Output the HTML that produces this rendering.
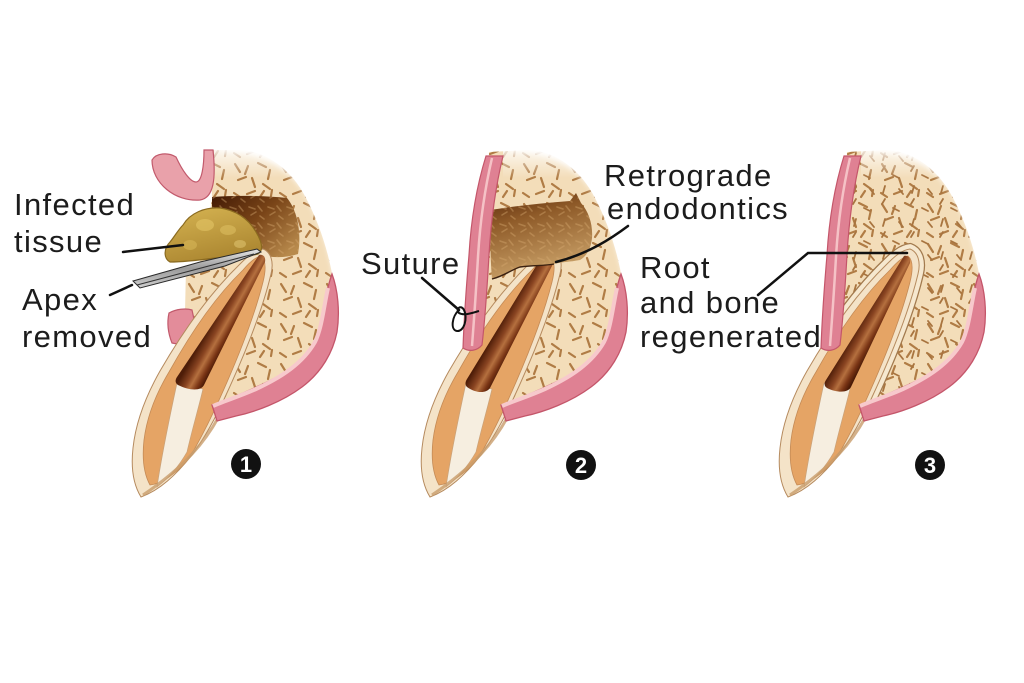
<!DOCTYPE html>
<html><head><meta charset="utf-8"><style>
html,body{margin:0;padding:0;background:#fff;}
svg{display:block}
text{font-family:"Liberation Sans",Arial,sans-serif;}
</style></head><body>
<svg width="1024" height="683" viewBox="0 0 1024 683" xmlns="http://www.w3.org/2000/svg">
<defs>
<pattern id="spkA" width="46" height="40" patternUnits="userSpaceOnUse">
<path d="M5,4 l5,8 M18,6 l-3,8 M28,3 l8,4 M40,10 l-2,9 M8,20 l8,-3 M22,18 l3,9 M33,24 l7,5 M4,33 l6,4 M17,34 l8,-3 M30,37 l4,-6 M42,30 l-1,6" stroke="#b07c45" stroke-width="2.2" stroke-linecap="round" fill="none"/>
</pattern>
<pattern id="spkB" width="29" height="33" patternUnits="userSpaceOnUse">
<path d="M3,6 l3,-5 M14,10 l6,3 M6,21 l-2,7 M20,24 l4,5" stroke="#a8743f" stroke-width="1.8" stroke-linecap="round" fill="none"/>
</pattern>
<pattern id="spkC" width="19" height="17" patternUnits="userSpaceOnUse">
<path d="M2,3 l6,2 M11,2 l4,5 M4,11 l5,-3 M13,12 l4,3" stroke="#d6aa70" stroke-width="1.6" stroke-linecap="round" fill="none" opacity=".4"/>
</pattern>
<linearGradient id="canalG" gradientUnits="userSpaceOnUse" x1="179.6" y1="379.1" x2="200.4" y2="390.9">
<stop offset="0" stop-color="#4e1d08"/><stop offset=".35" stop-color="#8a4522"/><stop offset=".55" stop-color="#b5703f"/><stop offset=".8" stop-color="#7a3515"/><stop offset="1" stop-color="#4a1a06"/>
</linearGradient>
<linearGradient id="cav1" x1="0" y1="0" x2="1" y2="0.8">
<stop offset="0" stop-color="#421904"/><stop offset=".5" stop-color="#7a4518"/><stop offset="1" stop-color="#b88a4c"/>
</linearGradient>
<linearGradient id="cav2" x1="0" y1="0" x2="0.3" y2="1">
<stop offset="0" stop-color="#5a290a"/><stop offset=".35" stop-color="#8e5a28"/><stop offset="1" stop-color="#c9a067"/>
</linearGradient>
<linearGradient id="tis" x1="0" y1="0" x2="0.4" y2="1">
<stop offset="0" stop-color="#d6b452"/><stop offset="1" stop-color="#ad8832"/>
</linearGradient>
<linearGradient id="tool" x1="0" y1="0" x2="0" y2="1">
<stop offset="0" stop-color="#e6e6e6"/><stop offset=".5" stop-color="#9a9a9a"/><stop offset="1" stop-color="#d0d0d0"/>
</linearGradient>
<linearGradient id="fadeT" x1="0" y1="0" x2="0" y2="1">
<stop offset="0" stop-color="#fff" stop-opacity="1"/><stop offset=".35" stop-color="#fff" stop-opacity=".6"/><stop offset="1" stop-color="#fff" stop-opacity="0"/>
</linearGradient>
<filter id="blur" x="-20%" y="-20%" width="140%" height="140%"><feGaussianBlur stdDeviation="3"/></filter>
<clipPath id="clipB2"><path d="M200,152 L240,150 C268,151 293,172 306,198 C319,223 329,252 334,285 L336,320 C330,356 300,390 250,408 L218,418 L200,380 L186,350 L186,300 L190,250 L198,200 Z"/></clipPath>
</defs>

<rect width="1024" height="683" fill="#fff"/>

<!-- ================= PANEL 1 ================= -->
<g>
<path d="M211,150 L240,150 C268,151 293,172 306,198 C319,223 329,252 334,285 L336,320 C330,356 300,390 250,408 L218,418 L200,350 L185,312 L186,268 L200,262 L212,200 Z" fill="#f3ddb9"/>
<path d="M211,150 L240,150 C268,151 293,172 306,198 C319,223 329,252 334,285 L336,320 C330,356 300,390 250,408 L218,418 L200,350 L185,312 L186,268 L200,262 L212,200 Z" fill="url(#spkA)"/>
<rect x="214" y="144" width="135" height="34" fill="url(#fadeT)"/>
<path d="M222,146 C270,147 298,170 312,196 C326,222 334,250 340,282" stroke="#fff" stroke-width="9" fill="none" filter="url(#blur)"/>
<!-- cavity -->
<path d="M212,197 C240,195 268,196 287,198 C297,210 302,232 298,254 C286,258 272,258 262,255 L240,252 L220,240 L212,225 Z" fill="url(#cav1)"/>
<path d="M212,197 C240,195 268,196 287,198 C297,210 302,232 298,254 C286,258 272,258 262,255 L240,252 L220,240 L212,225 Z" fill="url(#spkC)"/>
<!-- hook -->
<path d="M152,160 C152,183 175,202 200,200 C214,198 216,178 213,150 L204,150 C204,165 202,182 196,182 C190,182 182,170 176,157 C168,152 156,153 152,160 Z" fill="#e9a1aa" stroke="#c25a6c" stroke-width="1.2"/>
<!-- left flap -->
<path d="M169,313 C176,309 186,308 192,310 L198,338 C190,343 180,345 172,343 C168,333 167,322 169,313 Z" fill="#e38c9a" stroke="#c25a6c" stroke-width="1.2"/>
<!-- tooth -->
<path d="M263,249 C271,252 274,262 271,274 C262,312 244,356 226,395 C217,415 206,436 192,455 C176,475 160,490 141,497 C133,484 131,466 133,448 C136,420 147,394 160,371 C182,333 210,293 240,264 C248,256 255,250 263,249 Z" fill="#f4e3c8" stroke="#b58a5e" stroke-width="1"/>
<path d="M261,256 C266,260 266,270 263,282 C254,318 238,358 220,398 C212,416 203,434 194,450 L186,462 C175,474 161,484 150,485 C144,474 142,458 144,440 C147,416 157,392 169,372 C189,336 214,298 243,270 C249,263 255,257 261,256 Z" fill="#e5a465" stroke="#c48a55" stroke-width=".8"/>
<path d="M177,383 L203,389 C198,410 192,430 187,452 C179,466 170,477 157,487 C161,460 169,420 177,383 Z" fill="#f6eee0" stroke="#c9a27a" stroke-width=".7"/>
<path d="M259,255 C263,254 266,257 265,262 L204,385 C201,391 190,391 178,385 C175,383 175,380 177,377 Z" fill="url(#canalG)"/>
<path d="M218,418 C206,440 186,466 143,495" stroke="#c89c6c" stroke-width="3" fill="none" opacity=".8"/>
<!-- right gum -->
<path d="M332,274 C338,290 340,312 337,332 C333,352 322,372 302,387 C282,402 255,412 236,416 L217,421 L212,405 C230,399 252,390 285,373 C306,358 318,342 321,323 C324,305 327,288 332,274 Z" fill="#df8193" stroke="#c4566a" stroke-width="1.3"/>
<path d="M328,288 C324,305 322,328 315,342 C303,363 282,377 256,389 C238,397 224,401 213,406" stroke="#f7c9cc" stroke-width="4" fill="none"/>
<!-- infected tissue -->
<path d="M183,225 C190,213 205,207 220,208 C235,210 248,218 256,232 C262,242 264,250 258,254 C245,257 230,258 215,258 C200,260 185,262 170,262 C163,258 164,248 170,242 C175,236 178,230 183,225 Z" fill="url(#tis)" stroke="#8a6a20" stroke-width="1.2"/>
<ellipse cx="205" cy="225" rx="9" ry="6" fill="#e2c466" opacity=".6"/>
<ellipse cx="228" cy="230" rx="8" ry="5" fill="#e2c466" opacity=".5"/>
<ellipse cx="190" cy="245" rx="7" ry="5" fill="#dcbc5c" opacity=".5"/>
<ellipse cx="240" cy="244" rx="6" ry="4" fill="#e6cc78" opacity=".5"/>
<!-- forceps -->
<path d="M133,281 L200,262 L257,249 L261,252 L225,266 L140,288 Z" fill="url(#tool)" stroke="#2a2a2a" stroke-width="1"/>
<path d="M137,285 L254,254" stroke="#333" stroke-width="1.1"/>
</g>

<!-- ================= PANEL 2 ================= -->
<g transform="translate(289,0)">
<path d="M200,152 L240,150 C268,151 293,172 306,198 C319,223 329,252 334,285 L336,320 C330,356 300,390 250,408 L218,418 L200,380 L186,350 L186,300 L190,250 L198,200 Z" fill="#f3ddb9"/>
<path d="M200,152 L240,150 C268,151 293,172 306,198 C319,223 329,252 334,285 L336,320 C330,356 300,390 250,408 L218,418 L200,380 L186,350 L186,300 L190,250 L198,200 Z" fill="url(#spkA)"/>
<rect x="214" y="144" width="135" height="34" fill="url(#fadeT)"/>
<path d="M222,146 C270,147 298,170 312,196 C326,222 334,250 340,282" stroke="#fff" stroke-width="9" fill="none" filter="url(#blur)"/>
<!-- tooth -->
<path d="M263,249 C271,252 274,262 271,274 C262,312 244,356 226,395 C217,415 206,436 192,455 C176,475 160,490 141,497 C133,484 131,466 133,448 C136,420 147,394 160,371 C182,333 210,293 240,264 C248,256 255,250 263,249 Z" fill="#f4e3c8" stroke="#b58a5e" stroke-width="1"/>
<path d="M261,256 C266,260 266,270 263,282 C254,318 238,358 220,398 C212,416 203,434 194,450 L186,462 C175,474 161,484 150,485 C144,474 142,458 144,440 C147,416 157,392 169,372 C189,336 214,298 243,270 C249,263 255,257 261,256 Z" fill="#e5a465" stroke="#c48a55" stroke-width=".8"/>
<path d="M177,383 L203,389 C198,410 192,430 187,452 C179,466 170,477 157,487 C161,460 169,420 177,383 Z" fill="#f6eee0" stroke="#c9a27a" stroke-width=".7"/>
<path d="M252,258 L266,260 L201,388 C197,394 186,393 178,387 C176,385 176,382 178,379 Z" fill="url(#canalG)"/>
<path d="M218,418 C206,440 186,466 143,495" stroke="#c89c6c" stroke-width="3" fill="none" opacity=".8"/>
<!-- cavity -->
<path d="M202,210 C225,206 255,203 281,201 L287,193 L292,203 C300,212 304,225 303,238 C302,248 298,256 291,260 C280,262 272,262 265,264 C255,266 245,265 231,267 C222,270 215,276 203,279 C201,255 201,230 202,210 Z" fill="url(#cav2)"/>
<path d="M202,210 C225,206 255,203 281,201 L287,193 L292,203 C300,212 304,225 303,238 C302,248 298,256 291,260 C280,262 272,262 265,264 C255,266 245,265 231,267 C222,270 215,276 203,279 C201,255 201,230 202,210 Z" fill="url(#spkC)"/>
<path d="M203,279 C215,276 222,270 231,267 C245,265 255,266 265,264" stroke="#3a2010" stroke-width="1.4" fill="none"/>
<!-- gums -->
<path d="M332,274 C338,290 340,312 337,332 C333,352 322,372 302,387 C282,402 255,412 236,416 L217,421 L212,405 C230,399 252,390 285,373 C306,358 318,342 321,323 C324,305 327,288 332,274 Z" fill="#df8193" stroke="#c4566a" stroke-width="1.3"/>
<path d="M328,288 C324,305 322,328 315,342 C303,363 282,377 256,389 C238,397 224,401 213,406" stroke="#f7c9cc" stroke-width="4" fill="none"/>
<path d="M197,156 L214,156 C207,185 202,220 200,255 C198,290 196,320 193,345 C188,351 180,352 174,348 C175,320 177,290 180,255 C182,220 188,185 197,156 Z" fill="#df8193" stroke="#c4566a" stroke-width="1.2"/>
<path d="M203,158 C196,188 191,222 189,257 C187,292 185,320 183,346" stroke="#f5c2c6" stroke-width="2.5" fill="none"/>
</g>

<!-- ================= PANEL 3 ================= -->
<g transform="translate(647,0)">
<path d="M200,152 L240,150 C268,151 293,172 306,198 C319,223 329,252 334,285 L336,320 C330,356 300,390 250,408 L218,418 L200,380 L186,350 L186,300 L190,250 L198,200 Z" fill="#f3ddb9"/>
<path d="M200,152 L240,150 C268,151 293,172 306,198 C319,223 329,252 334,285 L336,320 C330,356 300,390 250,408 L218,418 L200,380 L186,350 L186,300 L190,250 L198,200 Z" fill="url(#spkA)"/>
<path d="M200,152 L240,150 C268,151 293,172 306,198 C319,223 329,252 334,285 L336,320 C330,356 300,390 250,408 L218,418 L200,380 L186,350 L186,300 L190,250 L198,200 Z" fill="url(#spkB)"/>
<rect x="214" y="144" width="135" height="34" fill="url(#fadeT)"/>
<path d="M222,146 C270,147 298,170 312,196 C326,222 334,250 340,282" stroke="#fff" stroke-width="9" fill="none" filter="url(#blur)"/>
<!-- root halo -->
<g clip-path="url(#clipB2)">
<path d="M263,249 C271,252 274,262 271,274 C262,312 244,356 226,395 C217,415 206,436 192,455 C176,475 160,490 141,497 C133,484 131,466 133,448 C136,420 147,394 160,371 C182,333 210,293 240,264 C248,256 255,250 263,249 Z" fill="none" stroke="#a27a4e" stroke-width="12"/>
<path d="M263,249 C271,252 274,262 271,274 C262,312 244,356 226,395 C217,415 206,436 192,455 C176,475 160,490 141,497 C133,484 131,466 133,448 C136,420 147,394 160,371 C182,333 210,293 240,264 C248,256 255,250 263,249 Z" fill="none" stroke="#f6e8cf" stroke-width="9.5"/>
</g>
<!-- tooth -->
<path d="M263,249 C271,252 274,262 271,274 C262,312 244,356 226,395 C217,415 206,436 192,455 C176,475 160,490 141,497 C133,484 131,466 133,448 C136,420 147,394 160,371 C182,333 210,293 240,264 C248,256 255,250 263,249 Z" fill="#f4e3c8" stroke="#b58a5e" stroke-width="1"/>
<path d="M261,256 C266,260 266,270 263,282 C254,318 238,358 220,398 C212,416 203,434 194,450 L186,462 C175,474 161,484 150,485 C144,474 142,458 144,440 C147,416 157,392 169,372 C189,336 214,298 243,270 C249,263 255,257 261,256 Z" fill="#e5a465" stroke="#c48a55" stroke-width=".8"/>
<path d="M177,383 L203,389 C198,410 192,430 187,452 C179,466 170,477 157,487 C161,460 169,420 177,383 Z" fill="#f6eee0" stroke="#c9a27a" stroke-width=".7"/>
<path d="M257,256 C261,255 264,258 263,263 L204,387 C201,393 190,393 180,388 C177,386 177,383 179,380 Z" fill="url(#canalG)"/>
<path d="M218,418 C206,440 186,466 143,495" stroke="#c89c6c" stroke-width="3" fill="none" opacity=".8"/>
<!-- gums -->
<path d="M332,274 C338,290 340,312 337,332 C333,352 322,372 302,387 C282,402 255,412 236,416 L217,421 L212,405 C230,399 252,390 285,373 C306,358 318,342 321,323 C324,305 327,288 332,274 Z" fill="#df8193" stroke="#c4566a" stroke-width="1.3"/>
<path d="M328,288 C324,305 322,328 315,342 C303,363 282,377 256,389 C238,397 224,401 213,406" stroke="#f7c9cc" stroke-width="4" fill="none"/>
<path d="M197,156 L214,156 C207,185 202,220 200,255 C198,290 196,320 193,345 C188,351 180,352 174,348 C175,320 177,290 180,255 C182,220 188,185 197,156 Z" fill="#df8193" stroke="#c4566a" stroke-width="1.2"/>
<path d="M203,158 C196,188 191,222 189,257 C187,292 185,320 183,346" stroke="#f5c2c6" stroke-width="2.5" fill="none"/>
</g>

<!-- ================= LEADER LINES ================= -->
<g stroke="#111" stroke-width="2.5" fill="none" stroke-linecap="round">
<path d="M123,252 L183,245"/>
<path d="M110,295 L132,285"/>
<path d="M422,278 L459,310"/>
<path d="M628,226 C612,238 588,254 556,262"/>
<path d="M758,295 L808,253 L907,253"/>
</g>
<path d="M459,310 C452,316 450,330 457,331 C464,332 468,318 464,310 C461,304 455,309 459,313 C464,316 472,313 479,311" stroke="#111" stroke-width="2" fill="none"/>

<!-- ================= TEXT ================= -->
<g font-size="31" fill="#1c1c1c" letter-spacing="1.35">
<text x="14" y="215">Infected</text>
<text x="14" y="252">tissue</text>
<text x="22" y="310">Apex</text>
<text x="22" y="347">removed</text>
<text x="361" y="274">Suture</text>
<text x="604" y="186">Retrograde</text>
<text x="607" y="219">endodontics</text>
<text x="640" y="278">Root</text>
<text x="640" y="313">and bone</text>
<text x="640" y="347">regenerated</text>
</g>

<!-- ================= NUMBERS ================= -->
<g>
<circle cx="246" cy="464" r="15" fill="#111"/>
<text x="246" y="472" font-size="22" font-weight="bold" fill="#fff" text-anchor="middle">1</text>
<circle cx="581" cy="465" r="15" fill="#111"/>
<text x="581" y="473" font-size="22" font-weight="bold" fill="#fff" text-anchor="middle">2</text>
<circle cx="930" cy="465" r="15" fill="#111"/>
<text x="930" y="473" font-size="22" font-weight="bold" fill="#fff" text-anchor="middle">3</text>
</g>
</svg>
</body></html>
